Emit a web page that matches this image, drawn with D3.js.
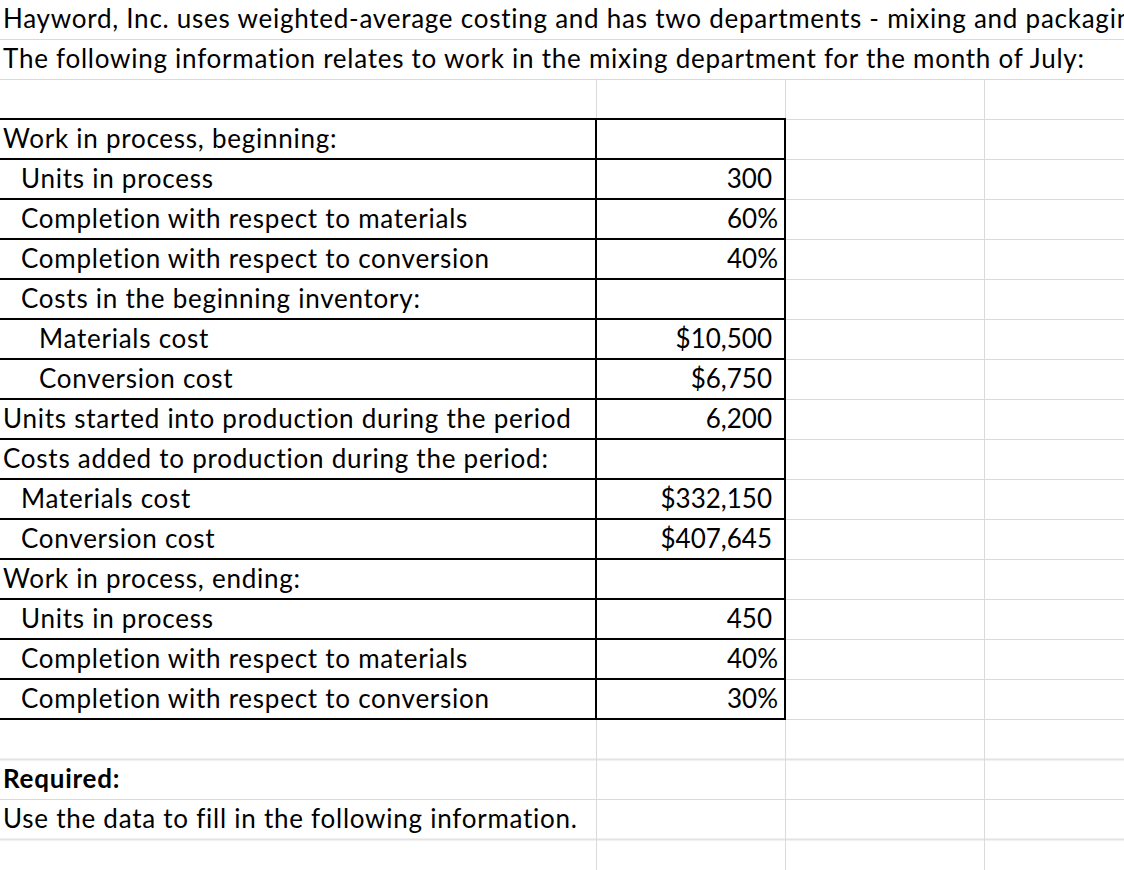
<!DOCTYPE html>
<html>
<head>
<meta charset="utf-8">
<script src="https://cdn.jsdelivr.net/npm/d3@7"></script>
<style>
  html, body { margin: 0; padding: 0; background: #fff; overflow: hidden; }
  text { font-family: Lato, "Open Sans", sans-serif; fill: #000; }
</style>
</head>
<body>
<div class="sheet"></div>
<script>
// heading lines above the table
const introLines = [
    "Hayword, Inc. uses weighted-average costing and has two departments - mixing and packaging.",
    "The following information relates to work in the mixing department for the month of July:"
];

// table rows: label, indent level, value, number format
const rowLabels = [
    "Work in process, beginning:",
    "Units in process",
    "Completion with respect to materials",
    "Completion with respect to conversion",
    "Costs in the beginning inventory:",
    "Materials cost",
    "Conversion cost",
    "Units started into production during the period",
    "Costs added to production during the period:",
    "Materials cost",
    "Conversion cost",
    "Work in process, ending:",
    "Units in process",
    "Completion with respect to materials",
    "Completion with respect to conversion"
];
const rowLevels = [0, 1, 1, 1, 1, 2, 2, 0, 0, 1, 1, 0, 1, 1, 1];
const rowValues = [null, 300, 0.6, 0.4, null, 10500, 6750, 6200, null, 332150, 407645, null, 450, 0.4, 0.3];
const rowFormats = ["", ",", ".0%", ".0%", "", "$,.0f", "$,.0f", ",", "", "$,.0f", "$,.0f", "", ",", ".0%", ".0%"];

const requiredTitle = "Required:";
const requiredText = "Use the data to fill in the following information.";

class SheetTable {
    constructor(selector) {
        this.selector = selector;
        this.width = 1124;
        this.height = 870;
        this.rowH = 40;
        this.colEdges = [0, 596, 785, 984, 1183];
        this.tableStart = 3;
        this.initVis();
        this.renderVis();
    }

    initVis() {
        this.svg = d3.select(this.selector)
            .append("svg")
            .attr("width", this.width)
            .attr("height", this.height)
            .style("display", "block");

        const nRows = Math.ceil(this.height / this.rowH) + 1;
        this.nRows = nRows;
        // sheet row index -> top edge of that row
        this.y = d3.scaleLinear()
            .domain([0, nRows])
            .range([-1, -1 + nRows * this.rowH]);
    }

    renderVis() {
        const y = this.y;
        const cols = this.colEdges;
        const t0 = this.tableStart;
        const t1 = t0 + rowLabels.length;
        const reqRow = t1 + 1;

        // light spreadsheet grid
        const grid = this.svg.append("g").attr("class", "grid");
        grid.selectAll("line.h")
            .data(d3.range(1, this.nRows))
            .join("line")
            .attr("class", "h")
            .attr("x1", 0)
            .attr("x2", this.width)
            .attr("y1", d => y(d) + 0.5)
            .attr("y2", d => y(d) + 0.5)
            .attr("stroke", d => (d === t1 + 1 || d === reqRow + 2) ? "#e3e3e3" : "#dadada")
            .attr("stroke-width", d => (d === t1 + 1 || d === reqRow + 2) ? 2 : 1);

        // vertical lines, hidden where the heading text overflows
        grid.selectAll("line.v")
            .data(cols.slice(1))
            .join("line")
            .attr("class", "v")
            .attr("x1", d => d + 0.5)
            .attr("x2", d => d + 0.5)
            .attr("y1", y(2))
            .attr("y2", this.height)
            .attr("stroke", "#dadada")
            .attr("stroke-width", 1);

        // table borders (no left edge)
        const border = this.svg.append("g").attr("class", "border");
        border.selectAll("line.h")
            .data(d3.range(t0, t1 + 1))
            .join("line")
            .attr("class", "h")
            .attr("x1", 0)
            .attr("x2", cols[2] + 1)
            .attr("y1", d => y(d))
            .attr("y2", d => y(d))
            .attr("stroke", "#000")
            .attr("stroke-width", 2);

        border.selectAll("line.v")
            .data([cols[1], cols[2]])
            .join("line")
            .attr("class", "v")
            .attr("x1", d => d)
            .attr("x2", d => d)
            .attr("y1", y(t0))
            .attr("y2", y(t1))
            .attr("stroke", "#000")
            .attr("stroke-width", 2);

        const fontSize = 26;
        const spacing = 0.75;
        const base = this.rowH - 11;

        // heading lines
        this.svg.append("g")
            .selectAll("text")
            .data(introLines)
            .join("text")
            .attr("x", 3)
            .attr("y", (d, i) => y(i) + base)
            .style("font-size", fontSize + "px")
            .style("letter-spacing", spacing + "px")
            .text(d => d);

        // labels
        this.svg.append("g")
            .selectAll("text")
            .data(rowLabels)
            .join("text")
            .attr("x", (d, i) => 3 + rowLevels[i] * 18)
            .attr("y", (d, i) => y(t0 + i) + base)
            .style("font-size", fontSize + "px")
            .style("letter-spacing", spacing + "px")
            .text(d => d);

        // values, right aligned in column B
        this.svg.append("g")
            .selectAll("text")
            .data(rowValues.map((v, i) => ({ v, f: rowFormats[i], i })).filter(d => d.v !== null))
            .join("text")
            .attr("x", d => cols[2] - (d.f.includes("%") ? 7 : 13))
            .attr("y", d => y(t0 + d.i) + base)
            .attr("text-anchor", "end")
            .style("font-size", fontSize + "px")
            .text(d => d3.format(d.f)(d.v));

        this.svg.append("text")
            .attr("x", 3)
            .attr("y", y(reqRow) + base)
            .style("font-size", fontSize + "px")
            .style("font-weight", "bold")
            .style("letter-spacing", spacing + "px")
            .text(requiredTitle);

        this.svg.append("text")
            .attr("x", 3)
            .attr("y", y(reqRow + 1) + base)
            .style("font-size", fontSize + "px")
            .style("letter-spacing", spacing + "px")
            .text(requiredText);
    }
}

new SheetTable(".sheet");
</script>
</body>
</html>
